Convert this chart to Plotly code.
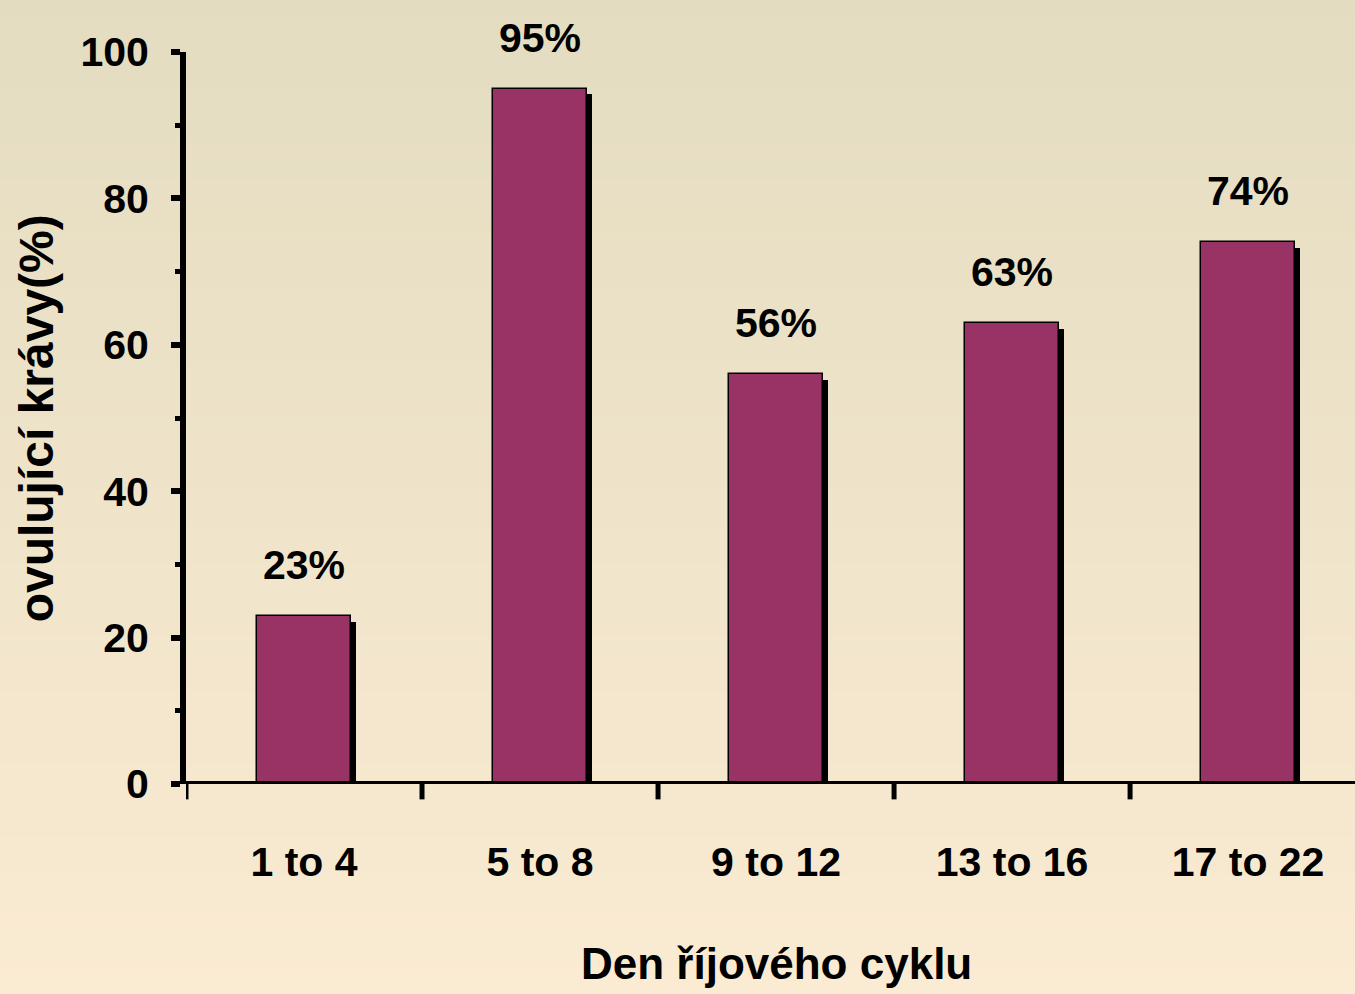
import plotly.graph_objects as go

categories = ["1 to 4", "5 to 8", "9 to 12", "13 to 16", "17 to 22"]
values = [23, 95, 56, 63, 74]
value_labels = ["23%", "95%", "56%", "63%", "74%"]
y_ticks = [0, 20, 40, 60, 80, 100]
x_title = "Den říjového cyklu"
y_title = "ovulující krávy(%)"

FONT = "Liberation Sans Narrow, Arial Narrow, Liberation Sans, Arial, sans-serif"
BAR_W = 0.4
SH_X = 0.022   # shadow offset in category units (~5px)
SH_Y = 0.8     # shadow drop in value units (~6px)

fig = go.Figure()

# shadow bars
fig.add_trace(go.Bar(
    x=list(range(len(categories))), y=[v - SH_Y for v in values],
    width=BAR_W, offset=-BAR_W / 2 + SH_X,
    marker=dict(color="black", line=dict(width=0)),
    hoverinfo="skip", showlegend=False,
))
# main bars
fig.add_trace(go.Bar(
    x=list(range(len(categories))), y=values,
    width=BAR_W, offset=-BAR_W / 2,
    marker=dict(color="#993366", line=dict(color="black", width=1.5)),
    showlegend=False,
))

for i, (v, t) in enumerate(zip(values, value_labels)):
    fig.add_annotation(x=i, y=v, text=t, showarrow=False, xref="x", yref="y",
                       yanchor="bottom", yshift=26,
                       font=dict(family=FONT, size=41, color="black", weight="bold"))

# gradient background
top = (227, 220, 192)
bot = (252, 236, 212)
n = 60
for k in range(n):
    f = k / (n - 1)
    c = tuple(round(top[j] + (bot[j] - top[j]) * f) for j in range(3))
    fig.add_shape(type="rect", xref="paper", yref="paper",
                  x0=-0.2, x1=1.2, y0=1.1 - (k + 1) * (1.5 / n), y1=1.1 - k * (1.5 / n) + 0.002,
                  fillcolor="rgb(%d,%d,%d)" % c, line=dict(width=0), layer="below")

fig.add_annotation(xref="paper", yref="paper", x=0.505, y=-0.245, text=x_title, showarrow=False,
                   xanchor="center", yanchor="middle",
                   font=dict(family=FONT, size=44, color="black", weight="bold"))
fig.add_annotation(xref="paper", yref="paper", x=-0.128, y=0.5, text=y_title, showarrow=False,
                   textangle=-90, xanchor="center", yanchor="middle",
                   font=dict(family=FONT, size=48, color="black", weight="bold"))

fig.update_layout(
    width=1355, height=994,
    margin=dict(l=186, r=0, t=52, b=210),
    paper_bgcolor="rgb(240,230,205)", plot_bgcolor="rgba(0,0,0,0)",
    barmode="overlay", bargap=0,
    xaxis=dict(
        tickmode="array", tickvals=list(range(len(categories))), ticktext=categories,
        range=[-0.5, 4.453], showgrid=False, zeroline=False,
        showline=False,
        tickfont=dict(family=FONT, size=41, color="black", weight="bold"),
        ticks="", ticklabelstandoff=50,
    ),
    yaxis=dict(
        range=[0, 100], tickvals=y_ticks, showgrid=False, zeroline=False,
        showline=True, linecolor="black", linewidth=6,
        ticks="outside", ticklen=9, tickwidth=6, tickcolor="black",
        minor=dict(dtick=10, ticks="outside", ticklen=5, tickwidth=5, tickcolor="black", showgrid=False),
        tickfont=dict(family=FONT, size=41, color="black", weight="bold"),
        ticklabelstandoff=14,
    ),
)

# x axis baseline and category-boundary ticks
fig.add_shape(type="line", xref="paper", yref="y", x0=-0.003, x1=1, y0=0, y1=0,
              line=dict(color="black", width=6))
for b in range(len(categories)):
    fig.add_shape(type="line", xref="x", yref="paper", x0=b - 0.5, x1=b - 0.5, y0=0, y1=-0.021,
                  line=dict(color="black", width=5))

fig.write_html("out.html", config={"displayModeBar": False},
               post_script="document.body.style.margin='0';document.body.style.overflow='hidden';")
